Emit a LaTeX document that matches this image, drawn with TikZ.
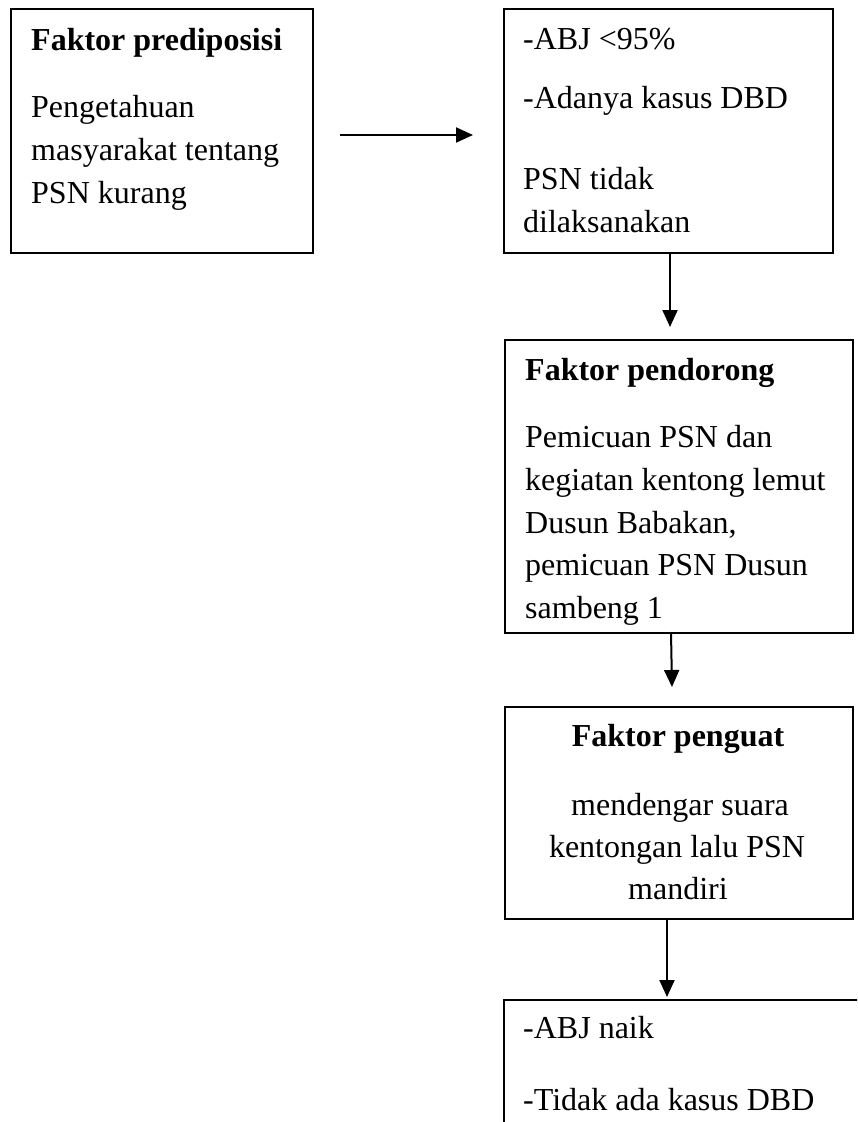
\documentclass[tikz,border=0pt]{standalone}
\usepackage{fontspec}
\setmainfont{Liberation Serif}
\usetikzlibrary{arrows.meta}
\tikzset{
  boxnode/.style={draw=black, line width=1.6pt, rectangle, anchor=north west, inner sep=0pt},
  txt/.style={anchor=base west, inner sep=0pt, font=\fontsize{32}{43}\selectfont},
  ctxt/.style={anchor=base, inner sep=0pt, font=\fontsize{32}{43}\selectfont},
  conn/.style={line width=2pt, -{Triangle[length=17pt,width=15pt]}}
}
\begin{document}
\begin{tikzpicture}[x=1pt,y=-1pt]
\useasboundingbox (0,0) rectangle (857,1122);
\clip (0,0) rectangle (857,1122);
% boxes
\node[boxnode, minimum width=302pt, minimum height=244pt] (b1) at (10,8) {};
\node[boxnode, minimum width=329pt, minimum height=244pt] (b2) at (503,8) {};
\node[boxnode, minimum width=348pt, minimum height=293pt] (b3) at (504,339) {};
\node[boxnode, minimum width=348pt, minimum height=212pt] (b4) at (504,706) {};
\node[boxnode, minimum width=380pt, minimum height=160pt] (b5) at (503,999) {};
% box 1 text
\node[txt, font=\fontsize{32}{43}\selectfont\bfseries] (t1a) at (31,50) {Faktor prediposisi};
\node[txt] (t1b) at (31,117) {Pengetahuan};
\node[txt] (t1c) at (31,160) {masyarakat tentang};
\node[txt] (t1d) at (31,203) {PSN kurang};
% box 2 text
\node[txt] (t2a) at (523,49) {-ABJ <95\%};
\node[txt] (t2b) at (523,108) {-Adanya kasus DBD};
\node[txt] (t2c) at (523,189) {PSN tidak};
\node[txt] (t2d) at (523,232) {dilaksanakan};
% box 3 text
\node[txt, font=\fontsize{32}{43}\selectfont\bfseries] (t3a) at (525,380) {Faktor pendorong};
\node[txt] (t3b) at (525,447) {Pemicuan PSN dan};
\node[txt] (t3c) at (525,490) {kegiatan kentong lemut};
\node[txt] (t3d) at (525,533) {Dusun Babakan,};
\node[txt] (t3e) at (525,575) {pemicuan PSN Dusun};
\node[txt] (t3f) at (525,618) {sambeng 1};
% box 4 text
\node[ctxt, font=\fontsize{32}{43}\selectfont\bfseries] (t4a) at (678,746) {Faktor penguat};
\node[ctxt] (t4b) at (680,815) {mendengar suara};
\node[ctxt] (t4c) at (677,857) {kentongan lalu PSN};
\node[ctxt] (t4d) at (678,899) {mandiri};
% box 5 text
\node[txt] (t5a) at (523,1038) {-ABJ naik};
\node[txt] (t5b) at (523,1110) {-Tidak ada kasus DBD};
% connector ends
\coordinate (a1s) at (340,135);
\coordinate (a1e) at (473,135);
\coordinate (a2s) at (670,252);
\coordinate (a2e) at (670,327);
\coordinate (a3s) at (671,632);
\coordinate (a3e) at (672,687);
\coordinate (a4s) at (667,918);
\coordinate (a4e) at (667,997);
\draw[conn] (a1s) -- (a1e);
\draw[conn] (a2s) -- (a2e);
\draw[conn] (a3s) -- (a3e);
\draw[conn] (a4s) -- (a4e);
\end{tikzpicture}
\end{document}
